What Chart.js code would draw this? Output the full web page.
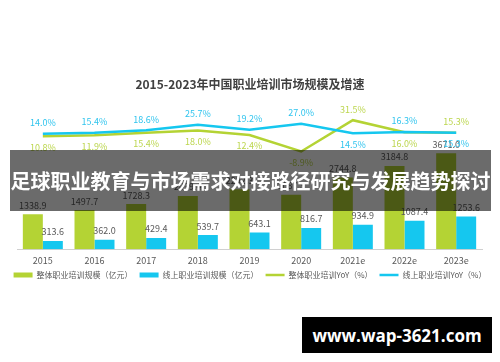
<!DOCTYPE html>
<html>
<head>
<meta charset="utf-8">
<script src="https://cdn.jsdelivr.net/npm/chart.js@4.4.0/dist/chart.umd.min.js"></script>
<style>
  body { margin: 0; background: #fff; }
  #wrap { position: relative; width: 500px; height: 362px; }
  #banner {
    position: absolute; left: 10px; top: 150px; width: 481px; height: 61px;
    background: rgba(0, 0, 0, 0.58); color: #fff;
    font-family: "Noto Sans CJK SC", sans-serif; font-weight: bold; font-size: 20px;
    display: flex; align-items: center; justify-content: center; white-space: nowrap;
  }
  #mark {
    position: absolute; left: 302px; top: 317px; width: 190px; height: 36px;
    background: #000; color: #fff;
    font: bold 17px "Open Sans", "DejaVu Sans", sans-serif;
    display: flex; align-items: center; justify-content: center;
  }
</style>
</head>
<body>
<div id="wrap">
  <canvas id="chart" width="500" height="362"></canvas>
  <div id="banner">足球职业教育与市场需求对接路径研究与发展趋势探讨</div>
  <div id="mark">www.wap-3621.com</div>
</div>
<script>
const years = ['2015', '2016', '2017', '2018', '2019', '2020', '2021e', '2022e', '2023e'];
const totalScale = [1338.9, 1497.7, 1728.3, 2039.4, 2292.3, 2087.3, 2744.8, 3184.8, 3671.0];
const onlineScale = [313.6, 362.0, 429.4, 539.7, 643.1, 816.7, 934.9, 1087.4, 1253.6];
const totalYoY = [10.8, 11.9, 15.4, 18.0, 12.4, -8.9, 31.5, 16.0, 15.3];
const onlineYoY = [14.0, 15.4, 18.6, 25.7, 19.2, 27.0, 14.5, 16.3, 15.3];

const green = '#b4d334';
const blue = '#15c7ef';
const font = '"Noto Sans CJK SC", sans-serif';

// which side of the line each percentage label sits on (-1 above, 1 below)
const labelSide = {
  2: [1, 1, 1, 1, 1, 1, -1, 1, -1],
  3: [-1, -1, -1, -1, -1, -1, 1, -1, 1]
};

const valueLabels = {
  id: 'valueLabels',
  afterDatasetsDraw(chart) {
    const ctx = chart.ctx;
    ctx.save();
    ctx.textAlign = 'center';
    ctx.textBaseline = 'middle';
    ctx.font = '9px ' + font;
    chart.data.datasets.forEach((ds, i) => {
      const meta = chart.getDatasetMeta(i);
      meta.data.forEach((el, j) => {
        const v = ds.data[j];
        if (ds.type === 'bar') {
          ctx.fillStyle = '#595959';
          ctx.fillText(v.toFixed(1), el.x, el.y - 9);
        } else {
          ctx.fillStyle = ds.labelColor;
          ctx.fillText(v.toFixed(1) + '%', el.x, el.y + labelSide[i][j] * 11);
        }
      });
    });
    ctx.restore();
  }
};

// keeps a fixed empty gutter either side of the plot
function gutter(w) {
  return function (scale) { scale.width = w; };
}

new Chart(document.getElementById('chart'), {
  data: {
    labels: years,
    datasets: [
      {
        type: 'bar',
        label: '整体职业培训规模（亿元）',
        data: totalScale,
        backgroundColor: green,
        yAxisID: 'y',
        pointStyle: 'rect',
        order: 2
      },
      {
        type: 'bar',
        label: '线上职业培训规模（亿元）',
        data: onlineScale,
        backgroundColor: blue,
        yAxisID: 'y',
        pointStyle: 'rect',
        order: 2
      },
      {
        type: 'line',
        label: '整体职业培训YoY（%）',
        data: totalYoY,
        borderColor: green,
        backgroundColor: green,
        borderWidth: 2.5,
        pointRadius: 0,
        pointStyle: 'line',
        labelColor: '#bcd64e',
        yAxisID: 'y1',
        order: 1
      },
      {
        type: 'line',
        label: '线上职业培训YoY（%）',
        data: onlineYoY,
        borderColor: blue,
        backgroundColor: blue,
        borderWidth: 2.5,
        pointRadius: 0,
        pointStyle: 'line',
        labelColor: '#2fc4ee',
        yAxisID: 'y1',
        order: 0
      }
    ]
  },
  options: {
    responsive: false,
    animation: false,
    layout: { padding: { left: 0, right: 0, top: 0, bottom: 73 } },
    datasets: { bar: { categoryPercentage: 0.774, barPercentage: 1.0 } },
    scales: {
      x: {
        grid: { display: false, drawTicks: false },
        border: { display: true, color: '#d0d0d0', width: 1 },
        ticks: { color: '#595959', font: { size: 9, family: font }, padding: 6 },
        afterFit(scale) { scale.height -= 8; }
      },
      y: {
        position: 'left', min: 0, max: 5700,
        grid: { display: false }, border: { display: false }, ticks: { display: false },
        afterFit: gutter(17)
      },
      y1: {
        position: 'right', min: -135, max: 57,
        grid: { display: false }, border: { display: false }, ticks: { display: false },
        afterFit: gutter(18)
      }
    },
    plugins: {
      title: {
        display: true,
        text: '2015-2023年中国职业培训市场规模及增速',
        color: '#404040',
        font: { size: 12, weight: 'bold', family: font },
        padding: { top: 77, bottom: 9 }
      },
      legend: {
        position: 'bottom',
        labels: {
          usePointStyle: true,
          pointStyleWidth: 19,
          boxHeight: 5,
          padding: 7,
          color: '#595959',
          font: { size: 8, family: font },
          sort: (a, b) => a.datasetIndex - b.datasetIndex
        }
      },
      tooltip: { enabled: false }
    }
  },
  plugins: [valueLabels]
});
</script>
</body>
</html>
